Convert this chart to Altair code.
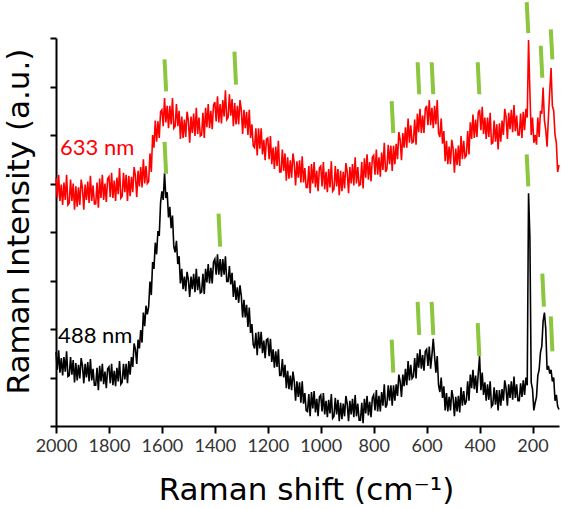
import altair as alt
import pandas as pd

# Raman shift grid (cm^-1), sampled every 5 cm^-1 from 2000 down to 100
shift = list(range(2000, 99, -5))

# 633 nm excitation spectrum (arbitrary units, offset upward)
red_633 = [
    256, 235, 259, 232, 249, 228, 251, 233, 259, 228,
    230, 254, 232, 250, 223, 247, 226, 246, 228, 254,
    245, 223, 249, 233, 252, 230, 258, 232, 248, 229,
    229, 251, 225, 255, 235, 259, 233, 250, 231, 255,
    257, 236, 261, 235, 253, 232, 256, 239, 266, 235,
    237, 261, 241, 259, 232, 258, 237, 257, 241, 267,
    258, 236, 263, 247, 267, 246, 275, 250, 268, 250,
    252, 281, 262, 300, 287, 315, 293, 314, 297, 324,
    326, 309, 338, 313, 330, 307, 330, 311, 338, 307,
    309, 332, 309, 325, 296, 319, 297, 316, 298, 324,
    315, 292, 319, 302, 322, 299, 328, 301, 318, 299,
    300, 323, 297, 328, 308, 332, 307, 325, 306, 331,
    334, 314, 340, 313, 332, 312, 336, 319, 346, 316,
    318, 342, 320, 337, 309, 333, 311, 330, 311, 336,
    326, 301, 326, 307, 324, 300, 326, 297, 311, 289,
    287, 307, 279, 307, 286, 307, 280, 295, 274, 296,
    297, 275, 299, 270, 287, 265, 288, 268, 294, 262,
    262, 285, 263, 281, 253, 277, 255, 274, 256, 281,
    271, 248, 273, 256, 274, 251, 278, 251, 266, 246,
    246, 268, 240, 270, 250, 272, 246, 263, 242, 266,
    268, 247, 272, 244, 262, 241, 265, 246, 273, 242,
    244, 268, 247, 265, 238, 263, 242, 262, 245, 271,
    262, 240, 267, 250, 270, 248, 277, 250, 267, 248,
    249, 272, 245, 276, 256, 280, 254, 272, 252, 277,
    279, 259, 285, 259, 277, 257, 282, 264, 292, 262,
    265, 290, 270, 289, 263, 289, 270, 291, 275, 303,
    295, 274, 302, 287, 308, 287, 317, 292, 310, 292,
    293, 316, 290, 322, 303, 327, 302, 320, 302, 327,
    330, 310, 336, 310, 328, 307, 330, 311, 336, 302,
    298, 317, 291, 304, 273, 294, 270, 288, 270, 295,
    286, 261, 286, 269, 289, 268, 299, 275, 294, 277,
    279, 304, 280, 313, 296, 321, 297, 316, 298, 323,
    326, 305, 329, 301, 318, 296, 318, 298, 323, 291,
    292, 315, 293, 311, 285, 312, 293, 315, 300, 327,
    319, 296, 323, 306, 326, 303, 331, 304, 320, 300,
    300, 322, 297, 324, 305, 327, 318, 398, 345, 300,
    318, 292, 300, 290, 318, 298, 325, 322, 349, 315,
    305, 288, 318, 345, 369, 330, 325, 300, 292, 262,
    269,
]

# 488 nm excitation spectrum (arbitrary units)
black_488 = [
    76, 58, 78, 55, 70, 52, 71, 56, 77, 51,
    52, 71, 53, 68, 45, 65, 47, 63, 49, 70,
    62, 44, 64, 50, 66, 46, 69, 47, 59, 42,
    42, 60, 37, 62, 46, 64, 43, 56, 39, 59,
    61, 44, 64, 42, 57, 41, 60, 46, 67, 43,
    45, 64, 48, 64, 44, 67, 53, 71, 61, 85,
    79, 64, 89, 80, 99, 86, 117, 103, 124, 115,
    123, 149, 135, 169, 162, 189, 177, 201, 196, 230,
    242, 233, 261, 235, 241, 215, 226, 204, 217, 185,
    179, 191, 167, 175, 147, 162, 141, 154, 139, 159,
    151, 133, 154, 141, 157, 138, 162, 140, 154, 137,
    138, 157, 136, 162, 148, 167, 147, 163, 147, 169,
    172, 156, 177, 156, 172, 154, 172, 156, 175, 149,
    149, 165, 146, 158, 133, 150, 130, 143, 127, 145,
    134, 112, 130, 112, 125, 102, 122, 96, 105, 84,
    80, 96, 73, 97, 80, 97, 75, 88, 70, 89,
    90, 72, 90, 66, 79, 60, 77, 61, 79, 52,
    52, 69, 50, 63, 39, 57, 38, 52, 37, 56,
    46, 26, 46, 30, 45, 24, 46, 23, 34, 16,
    15, 33, 10, 35, 18, 36, 14, 28, 10, 30,
    32, 15, 34, 12, 26, 9, 27, 13, 33, 8,
    10, 29, 12, 27, 5, 24, 7, 23, 10, 31,
    23, 5, 26, 12, 28, 9, 32, 10, 23, 6,
    6, 24, 3, 28, 13, 31, 11, 25, 9, 29,
    32, 16, 37, 15, 31, 15, 35, 21, 43, 19,
    22, 42, 26, 42, 21, 42, 26, 43, 31, 53,
    46, 30, 53, 41, 59, 42, 67, 47, 63, 49,
    51, 70, 49, 75, 60, 79, 59, 73, 57, 77,
    79, 62, 82, 59, 73, 90, 72, 55, 72, 42,
    35, 50, 29, 41, 16, 34, 15, 30, 16, 37,
    29, 10, 30, 15, 31, 14, 40, 21, 36, 22,
    26, 46, 26, 53, 39, 58, 38, 52, 34, 54,
    72, 37, 55, 32, 45, 26, 43, 27, 46, 20,
    22, 40, 22, 37, 16, 37, 21, 38, 26, 47,
    39, 21, 43, 29, 46, 27, 51, 29, 43, 26,
    26, 44, 30, 47, 32, 50, 42, 240, 195, 45,
    38, 16, 24, 30, 52, 58, 76, 82, 108, 117,
    100, 58, 62, 54, 58, 46, 50, 26, 32, 20,
    17,
]

# Band markers: position (cm^-1) and the intensity span of each marker
peak_shift_633 = [1584, 1320, 726, 628, 575, 401, 216, 163, 125]
peak_low_633 = [345, 352, 302, 342, 342, 342, 405, 359, 378]
peak_high_633 = [378, 386, 335, 375, 375, 375, 437, 392, 409]

peak_shift_488 = [1584, 1380, 726, 628, 575, 401, 216, 157, 125]
peak_low_488 = [260, 185, 55, 94, 94, 72, 247, 123, 77]
peak_high_488 = [293, 219, 89, 128, 128, 106, 280, 157, 113]

# Series labels
label_text = ["633 nm", "488 nm"]
label_shift = [1985, 1992]
label_level = [287, 93]

spectra = pd.DataFrame({"shift": shift, "633 nm": red_633, "488 nm": black_488}).melt(
    "shift", var_name="laser", value_name="intensity"
)
peaks = pd.DataFrame({
    "shift": peak_shift_633 + peak_shift_488,
    "low": peak_low_633 + peak_low_488,
    "high": peak_high_633 + peak_high_488,
})
labels = pd.DataFrame({"shift": label_shift, "intensity": label_level, "text": label_text})

LABEL_FONT = "Lato"
TITLE_FONT = "DejaVu Sans"
x_scale = alt.Scale(domain=[2000, 100], nice=False, zero=False)
y_scale = alt.Scale(domain=[0, 400], nice=False, zero=False)

x_axis = alt.Axis(
    values=list(range(2000, 99, -100)),
    format="d",
    labelExpr="datum.value % 200 === 0 ? datum.label : ''",
    tickSize={"condition": {"test": "datum.value % 200 === 0", "value": 7}, "value": 4},
    labelPadding=4,
    labelFlush=False,
    labelOverlap=False,
    titleX=250,
    titleY=73,
    titleBaseline="alphabetic",
    titleAlign="center",
)
y_axis = alt.Axis(
    values=list(range(0, 401, 50)),
    labels=False,
    tickSize=6,
    titleX=-28,
    titleY=183,
    titleAngle=-90,
    titleBaseline="alphabetic",
    titleAlign="center",
)

lines = alt.Chart(spectra).mark_line(strokeWidth=1.6).encode(
    x=alt.X("shift:Q", scale=x_scale, axis=x_axis, title="Raman shift (cm⁻¹)"),
    y=alt.Y("intensity:Q", scale=y_scale, axis=y_axis, title="Raman Intensity (a.u.)"),
    color=alt.Color(
        "laser:N",
        scale=alt.Scale(domain=["633 nm", "488 nm"], range=["#ff0000", "#000000"]),
        legend=None,
    ),
    order=alt.Order("shift:Q", sort="descending"),
)

markers = alt.Chart(peaks).transform_calculate(
    top_shift="datum.shift + 6"
).mark_rule(color="#8cc63f", strokeWidth=4).encode(
    x=alt.X("shift:Q", scale=x_scale),
    x2="top_shift:Q",
    y=alt.Y("low:Q", scale=y_scale),
    y2="high:Q",
)

text = alt.Chart(labels).mark_text(
    align="left", baseline="middle", font=LABEL_FONT, fontSize=22
).encode(
    x=alt.X("shift:Q", scale=x_scale),
    y=alt.Y("intensity:Q", scale=y_scale),
    text="text:N",
    color=alt.Color(
        "text:N",
        scale=alt.Scale(domain=["633 nm", "488 nm"], range=["#ff2a2a", "#333333"]),
        legend=None,
    ),
)

chart = alt.layer(lines, markers, text).properties(
    width=503,
    height=388,
    autosize=alt.AutoSizeParams(type="none"),
    padding={"left": 56, "top": 38, "right": 3, "bottom": 83},
    background="white",
).configure_view(stroke=None).configure_axis(
    domainColor="black",
    domainWidth=2,
    tickColor="black",
    tickWidth=2,
    grid=False,
    labelFont=LABEL_FONT,
    labelFontSize=18,
    labelColor="#333333",
    titleFont=TITLE_FONT,
    titleFontSize=31,
    titleFontWeight="normal",
    titleColor="black",
)

chart.save("out.html", embed_options={"renderer": "svg", "actions": False})
